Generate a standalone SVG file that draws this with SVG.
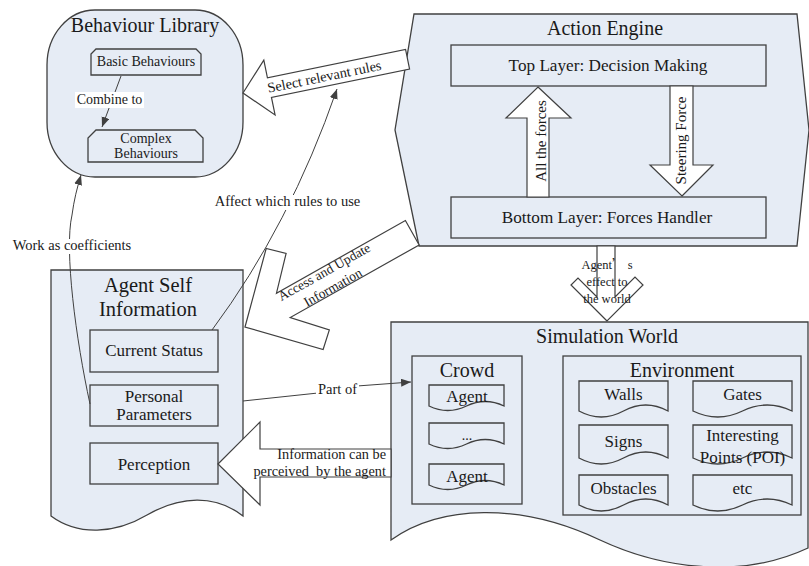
<svg xmlns="http://www.w3.org/2000/svg" width="809" height="566" viewBox="0 0 809 566" font-family="'Liberation Serif', 'DejaVu Serif', serif">
<style>
text{font-family:'Liberation Serif','Times New Roman','DejaVu Serif',serif;fill:#1a1a1a;text-anchor:middle}
.box{fill:#e6ecf5;stroke:#404040;stroke-width:1.3}
.inner{fill:none;stroke:#404040;stroke-width:1.3}
.blk{fill:#ffffff;stroke:#404040;stroke-width:1.2;stroke-linejoin:miter}
.ln{fill:none;stroke:#404040;stroke-width:1}
.bg{fill:#ffffff}
.t20{font-size:20px}
.t17{font-size:17px}
.t16{font-size:17.2px}
.t15{font-size:15px}
.t14{font-size:14px}
.t145{font-size:14.5px}
.t13{font-size:13.5px}
.t12{font-size:12.5px}
.end{text-anchor:end}
.cjk{font-family:'Noto Sans CJK SC',sans-serif}
</style>
<defs>
<marker id="ah" markerUnits="userSpaceOnUse" markerWidth="11" markerHeight="9" refX="10" refY="4" orient="auto">
<path d="M0,0 L10,4 L0,8 Z" fill="#404040"/>
</marker>
</defs>

<g id="behaviour-library">
<rect class="box" x="47" y="10" width="196" height="167" rx="48" ry="55"/>
<text class="t20" x="145" y="32">Behaviour Library</text>
<path class="inner" d="M96,49 H196 L201,54 V75 H91 V54 Z"/>
<text class="t14" x="146" y="66">Basic Behaviours</text>
<path class="inner" d="M96,130 H195 L203,138 V162 H88 V138 Z"/>
<text class="t14" x="146" y="143">Complex</text>
<text class="t14" x="146" y="158">Behaviours</text>
</g>

<g id="action-engine">
<path class="box" d="M414,14 H797 L809,130 L797,246 H419 L395,130 Z"/>
<text class="t20" x="605" y="35">Action Engine</text>
<rect class="inner" x="451" y="45" width="315" height="41"/>
<text class="t16" x="608" y="71">Top Layer: Decision Making</text>
<rect class="inner" x="451" y="197" width="315" height="41"/>
<text class="t16" x="607" y="223">Bottom Layer: Forces Handler</text>
</g>

<g id="agent-self-information">
<path class="box" d="M51,270 H243 V516 C215,494 180,496 147,515 C115,534 78,536 51,516 Z"/>
<text class="t20" x="148" y="292" style="font-size:20.5px">Agent Self</text>
<text class="t20" x="148" y="316" style="font-size:20.5px">Information</text>
<rect class="inner" x="90" y="330" width="128" height="42"/>
<text class="t17" x="154" y="356">Current Status</text>
<rect class="inner" x="90" y="385" width="128" height="41"/>
<text class="t17" x="154" y="402">Personal</text>
<text class="t17" x="154" y="420">Parameters</text>
<rect class="inner" x="90" y="443" width="128" height="41"/>
<text class="t17" x="154" y="470">Perception</text>
</g>

<g id="simulation-world">
<path class="box" d="M391,322 H808 V548 C740,580 660,568 600,540 C520,502 440,505 391,540 Z"/>
<text class="t20" x="607" y="343">Simulation World</text>
<g id="crowd">
<rect class="inner" x="412" y="356" width="110" height="148"/>
<text class="t20" x="467" y="377">Crowd</text>
<path class="inner" d="M429,385 H504 V406 Q485.25,397 466.5,406 T429,406 Z"/>
<text class="t17" x="467" y="402">Agent</text>
<path class="inner" d="M429,423 H504 V444 Q485.25,435 466.5,444 T429,444 Z"/>
<text class="t14" x="467" y="440">...</text>
<path class="inner" d="M429,464 H504 V485 Q485.25,476 466.5,485 T429,485 Z"/>
<text class="t17" x="467" y="482">Agent</text>
</g>
<g id="environment">
<rect class="inner" x="563" y="356" width="238" height="159"/>
<text class="t20" x="682" y="377">Environment</text>
<path class="inner" d="M579,381 H668 V411 Q645.75,399 623.5,411 T579,411 Z"/>
<text class="t17" x="623.5" y="400">Walls</text>
<path class="inner" d="M693,381 H792 V411 Q767.25,399 742.5,411 T693,411 Z"/>
<text class="t17" x="742.5" y="400">Gates</text>
<path class="inner" d="M579,425 H668 V458 Q645.75,446 623.5,458 T579,458 Z"/>
<text class="t17" x="623.5" y="447">Signs</text>
<path class="inner" d="M693,425 H792 V458 Q767.25,446 742.5,458 T693,458 Z"/>
<text class="t17" x="742.5" y="441">Interesting</text>
<text class="t17" x="742.5" y="463">Points (POI)</text>
<path class="inner" d="M579,475 H668 V505 Q645.75,493 623.5,505 T579,505 Z"/>
<text class="t17" x="623.5" y="494">Obstacles</text>
<path class="inner" d="M693,475 H792 V505 Q767.25,493 742.5,505 T693,505 Z"/>
<text class="t17" x="742.5" y="494">etc</text>
</g>
</g>

<g id="connectors">
<g id="select-relevant-rules" transform="translate(243,93) rotate(-11.6)">
<path class="blk" d="M0,0 L27,-28 L27,-10 L168,-10 L168,10 L27,10 L27,28 Z"/>
<text class="t14" x="83" y="5" style="font-size:14.3px">Select relevant rules</text>
</g>
<g id="access-update" transform="translate(245,327) rotate(-29.4)">
<path class="blk" d="M0,0 L57,-58 L72,-44 L44,-14 L192,-14 L192,14 L44,14 L72,44 L57,58 Z"/>
<text class="t13" x="96" y="-4.5">Access and Update</text>
<text class="t13" x="96" y="13">Information</text>
</g>
<g id="all-the-forces">
<path class="blk" d="M538,87 L571,118 L549,118 L549,197 L527,197 L527,118 L506,118 Z"/>
<text class="t15" transform="translate(546,141) rotate(-90)">All the forces</text>
</g>
<g id="steering-force">
<path class="blk" d="M682,196 L713,165 L693,165 L693,86 L670,86 L670,165 L650,165 Z"/>
<text class="t15" transform="translate(686,140.5) rotate(-90)">Steering Force</text>
</g>
<g id="agents-effect">
<path class="blk" d="M607,321 L571,285 L578,278 L597,297 L597,246 L615,246 L615,297 L635,277 L643,285 Z"/>
<text class="t12" x="607" y="269">Agent<tspan class="cjk">’</tspan> s</text>
<text class="t12" x="607" y="286">effect to</text>
<text class="t12" x="607" y="303">the world</text>
</g>
<g id="information-perceived">
<path class="blk" d="M218,464 L260,422 L260,449 L391,449 L391,477 L260,477 L260,505 Z"/>
<text class="t145 end" x="386" y="459" style="font-size:14.3px">Information can be</text>
<text class="t145 end" x="386" y="476" style="font-size:14.3px" xml:space="preserve">perceived  by the agent</text>
</g>

<path class="ln" d="M121,76 L102,127" marker-end="url(#ah)"/>
<rect class="bg" x="75" y="92" width="69" height="16"/>
<text class="t14" x="109.5" y="104">Combine to</text>

<path class="ln" d="M90,404 C76,340 64,250 72,215 C74,200 77,188 81,175" marker-end="url(#ah)"/>
<rect class="bg" x="10" y="239" width="124" height="15"/>
<text class="t145" x="72" y="250">Work as coefficients</text>

<path class="ln" d="M212,330 Q290,225 337,89" marker-end="url(#ah)"/>
<rect class="bg" x="212" y="195" width="152" height="15"/>
<text class="t145" x="287.5" y="206">Affect which rules to use</text>

<path class="ln" d="M243,401 L318,393 L357,386 L411,382" marker-end="url(#ah)"/>
<rect class="bg" x="316" y="382" width="43" height="15"/>
<text class="t145" x="337.5" y="394">Part of</text>
</g>
</svg>
